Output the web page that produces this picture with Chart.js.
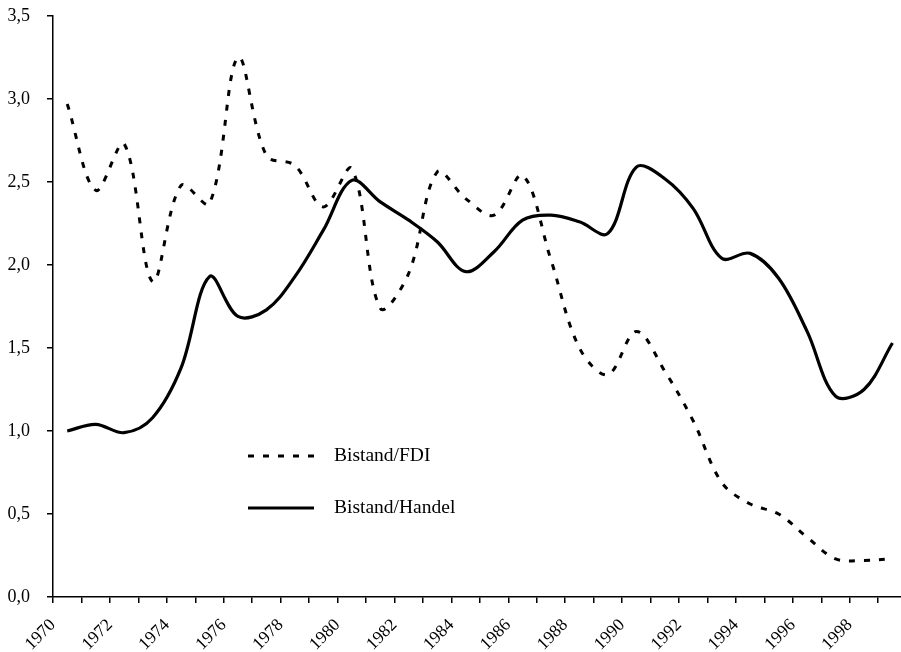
<!DOCTYPE html>
<html>
<head>
<meta charset="utf-8">
<script src="https://cdn.jsdelivr.net/npm/chart.js@4"></script>
<style>
body{margin:0;background:#fff;}
#wrap{width:901px;height:652px;}
</style>
</head>
<body>
<div id="wrap"><canvas id="aidChart" width="901" height="652"></canvas></div>
<script>

// ================= DATA =================

const years=[1970,1971,1972,1973,1974,1975,1976,1977,1978,1979,
1980,1981,1982,1983,1984,1985,1986,1987,1988,1989,
1990,1991,1992,1993,1994,1995,1996,1997,1998,1999];

const fdi=[2.97,2.45,2.73,1.90,2.48,2.37,3.25,2.66,2.60,2.35,
2.58,1.74,1.95,2.56,2.40,2.30,2.54,2.03,1.50,1.34,
1.60,1.36,1.06,0.69,0.56,0.50,0.36,0.23,0.22,0.23];

const handel=[1.00,1.04,0.99,1.08,1.38,1.93,1.69,1.73,1.93,2.21,
2.51,2.38,2.27,2.14,1.96,2.08,2.27,2.30,2.26,2.19,
2.59,2.52,2.34,2.04,2.07,1.92,1.60,1.21,1.25,1.53];

const tickYears=[1970,1972,1974,1976,1978,1980,1982,1984,1986,1988,1990,1992,1994,1996,1998];

const yTicks=["0,0","0,5","1,0","1,5","2,0","2,5","3,0","3,5"];

const seriesNames=["Bistand/FDI","Bistand/Handel"];

// ================= HELPERS =================

function toPoints(vals){
return vals.map((v,i)=>({x:years[i]+0.5,y:v}));
}

const FONT="'Liberation Serif','Times New Roman',serif";

// ================= LEGEND =================

const innerLegend={
id:"innerLegend",
afterDraw(chart){
const ctx=chart.ctx;
const rows=[456,508];
chart.data.datasets.forEach((ds,i)=>{
const y=rows[i];
ctx.save();
ctx.strokeStyle=ds.borderColor;
ctx.lineWidth=ds.borderWidth;
ctx.setLineDash(ds.borderDash || []);
ctx.beginPath();
ctx.moveTo(248,y);
ctx.lineTo(314,y);
ctx.stroke();
ctx.setLineDash([]);
ctx.fillStyle="#000";
ctx.font="19.5px "+FONT;
ctx.textBaseline="middle";
ctx.fillText(ds.label,334,y);
ctx.restore();
});
}
};

// ================= CHART =================

new Chart(document.getElementById("aidChart"),{

type:"line",

data:{
datasets:[
{
label:seriesNames[0],
data:toPoints(fdi),
borderColor:"#000",
borderWidth:3,
borderDash:[6,9],
pointRadius:0,
tension:0.35,
fill:false
},
{
label:seriesNames[1],
data:toPoints(handel),
borderColor:"#000",
borderWidth:3.2,
pointRadius:0,
tension:0.35,
fill:false
}
]
},

options:{
responsive:false,
animation:false,
devicePixelRatio:1,
layout:{padding:{top:16,right:0,left:0,bottom:0}},
plugins:{
legend:{display:false},
tooltip:{enabled:false}
},
scales:{
x:{
type:"linear",
min:1970,
max:1999.8,
afterFit(s){s.height=55;s.paddingRight=0;},
border:{display:true,color:"#000",width:1.5},
grid:{display:true,drawOnChartArea:false,drawTicks:true,tickLength:6,color:"#000",lineWidth:1.5},
ticks:{
stepSize:1,
autoSkip:false,
includeBounds:false,
minRotation:45,
maxRotation:45,
padding:12,
color:"#000",
font:{family:FONT,size:17.5},
callback:v=>tickYears.includes(v)?String(v):""
}
},
y:{
min:0,
max:3.5,
afterFit(s){s.width=53;s.paddingTop=0;s.paddingBottom=0;},
border:{display:true,color:"#000",width:1.5},
grid:{display:true,drawOnChartArea:false,drawTicks:true,tickLength:6,color:"#000",lineWidth:1.5},
ticks:{
stepSize:0.5,
padding:17,
color:"#000",
font:{family:FONT,size:18},
callback:(v,i)=>yTicks[Math.round(v*2)]
}
}
}
},

plugins:[innerLegend]

});

</script>
</body>
</html>
